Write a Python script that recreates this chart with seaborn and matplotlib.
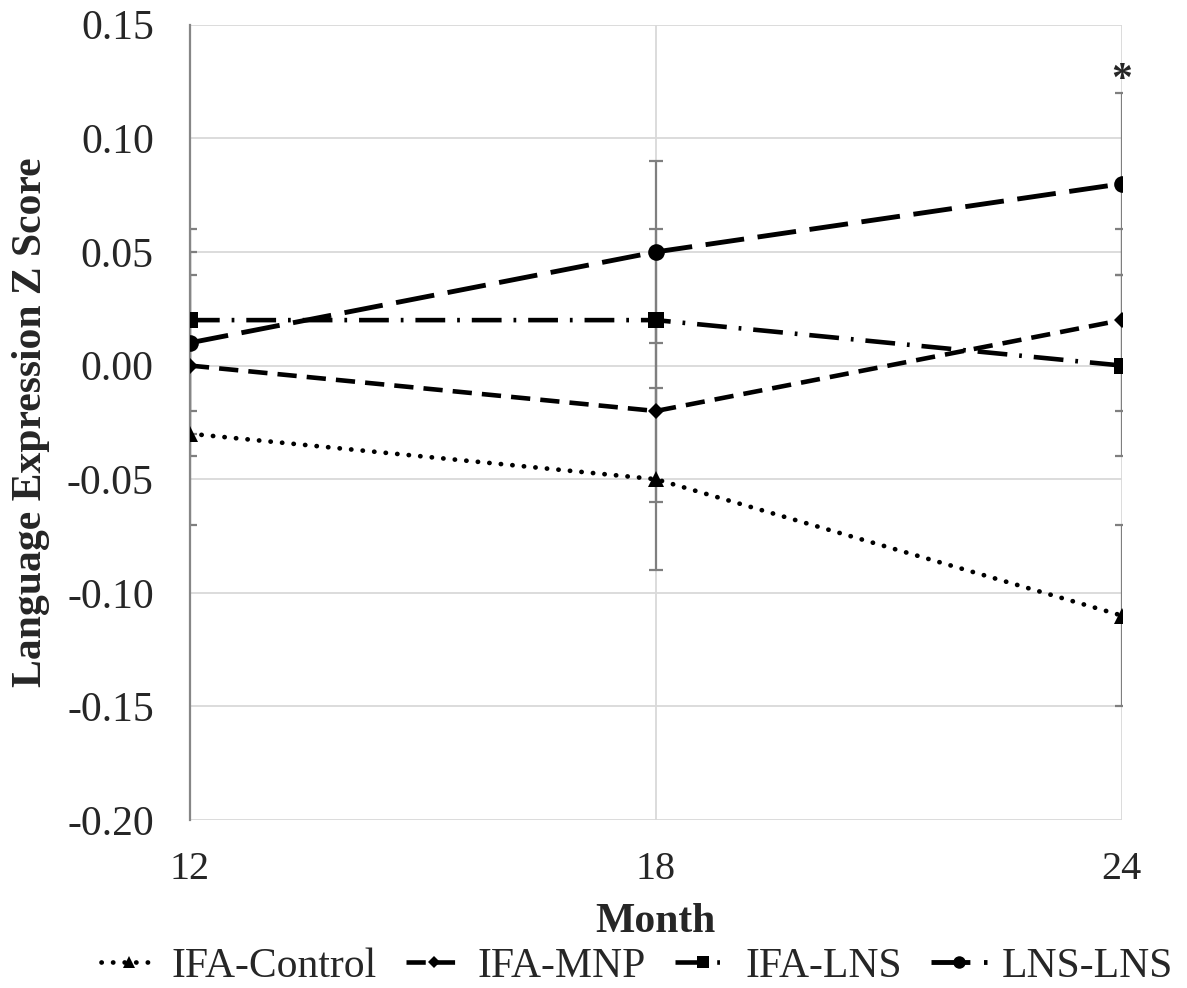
import pandas as pd
import numpy as np
import seaborn as sns
import matplotlib.pyplot as plt

months = [12, 18, 24]
groups = ["IFA-Control", "IFA-MNP", "IFA-LNS", "LNS-LNS"]
ifa_control = [-0.03, -0.05, -0.11]
ifa_mnp = [0.00, -0.02, 0.02]
ifa_lns = [0.02, 0.02, 0.00]
lns_lns = [0.01, 0.05, 0.08]
err = [0.04, 0.04, 0.04]
yticks = [-0.20, -0.15, -0.10, -0.05, 0.00, 0.05, 0.10, 0.15]

vals = {"IFA-Control": ifa_control, "IFA-MNP": ifa_mnp, "IFA-LNS": ifa_lns, "LNS-LNS": lns_lns}
df = pd.DataFrame([(g, m, v) for g in groups for m, v in zip(months, vals[g])],
                  columns=["group", "Month", "z"])

sns.set_style("white")
plt.rcParams['font.family'] = ['Liberation Serif', 'DejaVu Serif']

fig = plt.figure(figsize=(11.87, 9.88), dpi=100)
ax = fig.add_axes([0.160, 0.170, 0.785, 0.805])

# error bars under the lines
for g in groups:
    ax.errorbar(months, vals[g], yerr=err, fmt="none", ecolor="#7f7f7f",
                elinewidth=1.6, capsize=5, capthick=1.6, zorder=2)

dashes = {"IFA-Control": (0.05, 2.4), "IFA-MNP": (4.2, 2.2),
          "IFA-LNS": (6.5, 2.6, 0.6, 2.6), "LNS-LNS": (8, 2.8)}
markers = {"IFA-Control": "^", "IFA-MNP": "D", "IFA-LNS": "s", "LNS-LNS": "o"}
sizes = {"IFA-Control": 11, "IFA-MNP": 8, "IFA-LNS": 11, "LNS-LNS": 12}
widths = {"IFA-Control": 3.4, "IFA-MNP": 3.3, "IFA-LNS": 3.3, "LNS-LNS": 3.5}

for g in groups:
    sub = df[df["group"] == g]
    sns.lineplot(data=sub, x="Month", y="z", ax=ax, color="black", linewidth=widths[g],
                 marker=markers[g], markersize=sizes[g], markeredgewidth=0,
                 label=g, zorder=3)
    ln = ax.lines[-1]
    ln.set_dashes(dashes[g])
    if g == "IFA-Control":
        ln.set_dash_capstyle("round")

ax.set_xlim(12, 24)
ax.set_ylim(-0.20, 0.15)
ax.set_xticks(months)
ax.set_yticks(yticks)
ax.set_yticklabels([f"{t:.2f}" for t in yticks])
ax.grid(True, color="#d9d9d9", linewidth=1.3)
ax.set_axisbelow(True)
for s in ["top", "right", "bottom"]:
    ax.spines[s].set_visible(False)
ax.spines["left"].set_color("#868686")
ax.spines["left"].set_linewidth(1.6)
ax.tick_params(axis="y", labelsize=30, length=0, pad=26)
ax.tick_params(axis="x", labelsize=29, length=0, pad=22)

ax.set_xlabel("Month", fontsize=30, fontweight="bold", labelpad=11)
ax.set_ylabel("Language Expression Z Score", fontsize=30, fontweight="bold", labelpad=12)

ax.text(24, 0.121, "*", ha="center", va="baseline", fontsize=30, fontweight="bold")

ax.legend(loc="center", bbox_to_anchor=(0.48, -0.184), ncol=4, frameon=False,
          fontsize=30, handlelength=1.35, handletextpad=0.35, columnspacing=0.7,
          borderaxespad=0, borderpad=0, markerscale=0.75)

fig.savefig("out.png", dpi=100)
